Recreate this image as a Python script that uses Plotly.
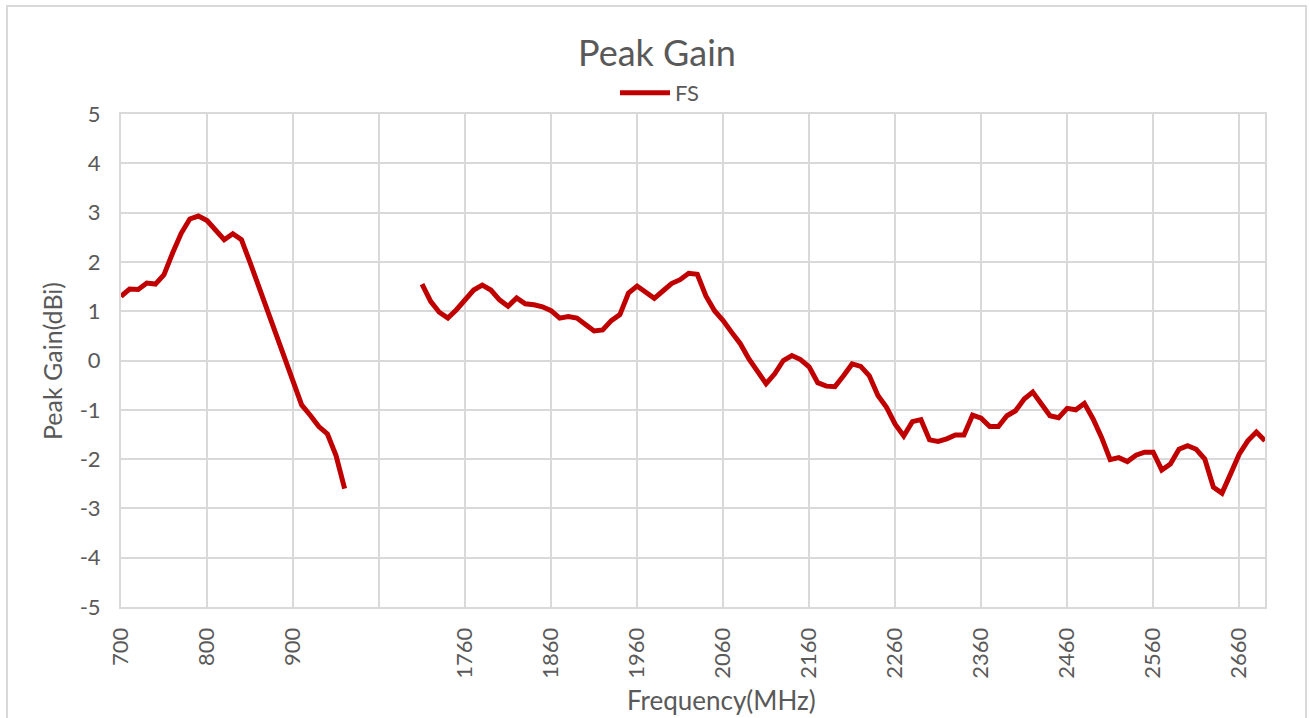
import plotly.graph_objects as go

# ---- data ----
freq_low = [700, 710, 720, 730, 740, 750, 760, 770, 780, 790, 800, 810, 820, 830, 840,
            850, 860, 870, 880, 890, 900, 910, 920, 930, 940, 950, 960]
gain_low = [1.30, 1.45, 1.44, 1.57, 1.55, 1.74, 2.18, 2.58, 2.87, 2.93, 2.84, 2.64, 2.45,
            2.57, 2.45, 1.99, 1.51, 0.98, 0.52, 0.03, -0.47, -0.90, -1.11, -1.34, -1.49,
            -1.93, -2.60]
n_blank = 8  # empty categories between the two bands
freq_high = list(range(1710, 2700, 10))
gain_high = [1.55, 1.20, 0.98, 0.86, 1.03, 1.23, 1.43, 1.53, 1.43, 1.23,
             1.10, 1.27, 1.15, 1.13, 1.09, 1.01, 0.86, 0.89, 0.86, 0.73,
             0.60, 0.62, 0.81, 0.93, 1.37, 1.51, 1.38, 1.26, 1.41, 1.56,
             1.64, 1.77, 1.75, 1.31, 1.01, 0.81, 0.57, 0.34, 0.03, -0.20,
             -0.47, -0.27, 0.00, 0.10, 0.02, -0.13, -0.45, -0.52, -0.53, -0.31,
             -0.07, -0.12, -0.31, -0.71, -0.95, -1.29, -1.53, -1.24, -1.20, -1.61,
             -1.64, -1.59, -1.51, -1.51, -1.11, -1.17, -1.34, -1.34, -1.12, -1.02,
             -0.78, -0.64, -0.86, -1.12, -1.16, -0.97, -1.00, -0.87, -1.18, -1.56,
             -2.01, -1.97, -2.05, -1.92, -1.86, -1.86, -2.22, -2.10, -1.80, -1.73,
             -1.80, -2.00, -2.57, -2.69, -2.30, -1.90, -1.63, -1.45, -1.63]
series_name = "FS"
y_ticks = [-5, -4, -3, -2, -1, 0, 1, 2, 3, 4, 5]

# category axis built from the lists
categories = [str(f) for f in freq_low] + [""] * n_blank + [str(f) for f in freq_high]
values = gain_low + [None] * n_blank + gain_high
positions = list(range(len(categories)))
tick_pos = positions[::10]
tick_txt = [categories[p] for p in tick_pos]

# ---- styling ----
W, H = 1309, 718
L, R, T, B = 121, 1265, 114, 607
TXT = "#595959"
GRID = "#D9D9D9"
FONT = "Lato"

def px(x):
    return (x - L) / (R - L)

def py(y):
    return (B - y) / (B - T)

fig = go.Figure()
fig.add_trace(go.Scatter(
    x=positions, y=values, mode="lines", name=series_name,
    line=dict(color="#C00000", width=5), connectgaps=False,
))

fig.update_layout(
    width=W, height=H,
    margin=dict(l=L, r=W - R, t=T, b=H - B, pad=0),
    paper_bgcolor="white", plot_bgcolor="white",
    font=dict(family=FONT, color=TXT, size=21),
    showlegend=True,
    legend=dict(orientation="h", x=px(660), y=py(93), xanchor="center", yanchor="middle",
                font=dict(size=22, color=TXT, family=FONT), bgcolor="rgba(0,0,0,0)",
                itemwidth=50),
    xaxis=dict(range=[0, len(categories) - 1], tickmode="array", tickvals=tick_pos,
               ticktext=tick_txt, tickangle=-90, showgrid=True, gridcolor=GRID,
               gridwidth=2, zeroline=False, showline=True, linecolor=GRID, linewidth=2,
               mirror=True, ticks="outside", ticklen=10, tickcolor="rgba(0,0,0,0)",
               tickfont=dict(size=22, color=TXT, family=FONT)),
    yaxis=dict(range=[-5, 5], tickmode="array", tickvals=y_ticks,
               ticktext=[("-" + str(abs(v))) if v < 0 else str(v) for v in y_ticks],
               showgrid=True, gridcolor=GRID, gridwidth=2, zeroline=False,
               showline=True, linecolor=GRID, linewidth=2, mirror=True,
               ticks="outside", ticklen=14, tickcolor="rgba(0,0,0,0)",
               tickfont=dict(size=22, color=TXT, family=FONT)),
    annotations=[
        dict(text="Peak Gain", x=px(657), y=py(52), xref="paper", yref="paper",
             showarrow=False, xanchor="center", yanchor="middle",
             font=dict(size=36, color=TXT, family=FONT)),
        dict(text="Frequency(MHz)", x=px(721), y=py(700), xref="paper", yref="paper",
             showarrow=False, xanchor="center", yanchor="middle",
             font=dict(size=26, color=TXT, family=FONT)),
        dict(text="Peak Gain(dBi)", x=px(52), y=py(361), xref="paper", yref="paper",
             showarrow=False, xanchor="center", yanchor="middle", textangle=-90,
             font=dict(size=25, color=TXT, family=FONT)),
    ],
    shapes=[
        dict(type="rect", xref="paper", yref="paper",
             x0=px(7), x1=px(1306), y0=py(730), y1=py(6),
             line=dict(color=GRID, width=2), fillcolor="rgba(0,0,0,0)", layer="below"),
    ],
)

fig.write_html("out.html", config={"displayModeBar": False},
               post_script="document.body.style.margin='0';")
